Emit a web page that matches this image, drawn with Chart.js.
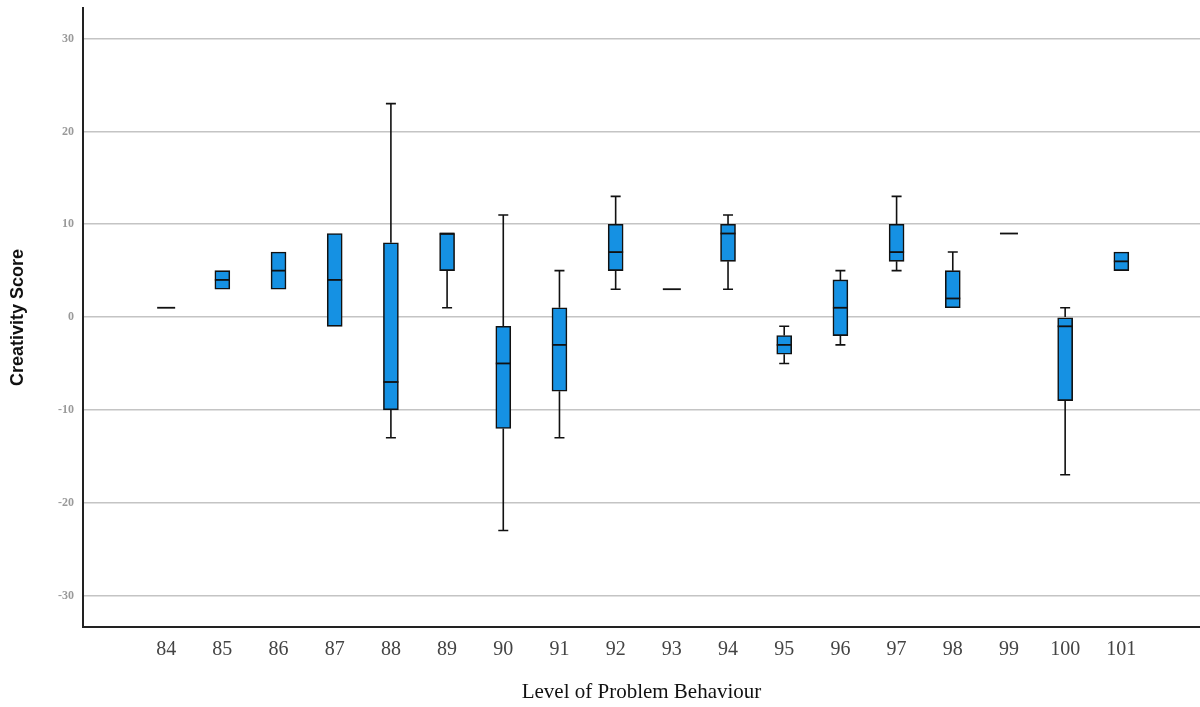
<!DOCTYPE html>
<html>
<head>
<meta charset="utf-8">
<script src="https://cdn.jsdelivr.net/npm/chart.js@4.4.1/dist/chart.umd.min.js"></script>
<style>
  html, body { margin: 0; padding: 0; background: #fff; }
  #wrap { width: 1200px; height: 707px; }
</style>
</head>
<body>
<div id="wrap"><canvas id="boxChart"></canvas></div>
<script>
// ===== DATA =====
const levels  = [84, 85, 86, 87, 88, 89, 90, 91, 92, 93, 94, 95, 96, 97, 98, 99, 100, 101];
const minVals = [1, 3, 3, -1, -13, 1, -23, -13, 3, 3, 3, -5, -3, 5, 1, 9, -17, 5];
const q1Vals  = [1, 3, 3, -1, -10, 5, -12, -8, 5, 3, 6, -4, -2, 6, 1, 9, -9, 5];
const medVals = [1, 4, 5, 4, -7, 9, -5, -3, 7, 3, 9, -3, 1, 7, 2, 9, -1, 6];
const q3Vals  = [1, 5, 7, 9, 8, 9, -1, 1, 10, 3, 10, -2, 4, 10, 5, 9, 0, 7];
const maxVals = [1, 5, 7, 9, 23, 9, 11, 5, 13, 3, 11, -1, 5, 13, 7, 9, 1, 7];
const yTicks  = [-30, -20, -10, 0, 10, 20, 30];

// ===== WHISKERS + MEDIANS =====
const boxExtras = {
  id: 'boxExtras',
  beforeDatasetsDraw(chart) {
    const { ctx, scales: { x, y } } = chart;
    ctx.save();
    ctx.strokeStyle = '#111';
    ctx.lineWidth = 1.6;
    levels.forEach((lv, i) => {
      const px = x.getPixelForValue(lv);
      const segs = [[q3Vals[i], maxVals[i]], [q1Vals[i], minVals[i]]];
      segs.forEach(([from, to]) => {
        if (from === to) return;
        const y0 = y.getPixelForValue(from), y1 = y.getPixelForValue(to);
        ctx.beginPath();
        ctx.moveTo(px, y0); ctx.lineTo(px, y1);
        ctx.moveTo(px - 5, y1); ctx.lineTo(px + 5, y1);
        ctx.stroke();
      });
    });
    ctx.restore();
  },
  afterDatasetsDraw(chart) {
    const { ctx, scales: { x, y } } = chart;
    ctx.save();
    ctx.strokeStyle = '#111';
    ctx.lineWidth = 1.8;
    levels.forEach((lv, i) => {
      const px = x.getPixelForValue(lv);
      const py = y.getPixelForValue(medVals[i]);
      const half = q1Vals[i] === q3Vals[i] ? 9 : 7.5;
      ctx.beginPath();
      ctx.moveTo(px - half, py); ctx.lineTo(px + half, py);
      ctx.stroke();
    });
    ctx.restore();
  }
};

const ctx = document.getElementById('boxChart').getContext('2d');
new Chart(ctx, {
  type: 'bar',
  data: {
    datasets: [{
      label: 'Creativity Score',
      data: levels.map((lv, i) => ({ x: lv, y: q1Vals[i] === q3Vals[i] ? null : [q1Vals[i], q3Vals[i]] })),
      backgroundColor: '#1591e3',
      borderColor: '#111',
      borderWidth: 1.6,
      borderSkipped: false,
      barThickness: 15
    }]
  },
  plugins: [boxExtras],
  options: {
    responsive: true,
    maintainAspectRatio: false,
    animation: false,
    layout: { padding: { top: 8, right: 0, left: 0, bottom: 0 } },
    plugins: { legend: { display: false }, tooltip: { enabled: false } },
    scales: {
      x: {
        type: 'linear',
        offset: false,
        min: 82.52,
        max: 102.4,
        afterBuildTicks: (axis) => { axis.ticks = levels.map(v => ({ value: v })); },
        afterFit: (scale) => { scale.height = 80; },
        grid: { display: false, drawTicks: false, offset: false },
        border: { display: true, color: '#222', width: 2 },
        ticks: {
          autoSkip: false,
          maxRotation: 0,
          padding: 11,
          color: '#444',
          font: { family: 'Liberation Serif', size: 20 },
          callback: (v) => String(v)
        },
        title: {
          display: true,
          text: 'Level of Problem Behaviour',
          color: '#111',
          font: { family: 'Liberation Serif', size: 21 },
          padding: { top: 2, bottom: 2 }
        }
      },
      y: {
        min: -33.4,
        max: 33.3,
        afterBuildTicks: (axis) => { axis.ticks = yTicks.map(v => ({ value: v })); },
        afterFit: (scale) => {
          scale.width = 83;
          scale.paddingTop = 0;
          scale.paddingBottom = 0;
        },
        grid: { color: '#c4c4c4', lineWidth: 1.5, drawTicks: false },
        border: { display: true, color: '#222', width: 2 },
        ticks: {
          padding: 9,
          color: '#9a9a9a',
          font: { family: 'Liberation Serif', size: 12, weight: 'bold' }
        },
        title: {
          display: true,
          text: 'Creativity Score',
          color: '#111',
          font: { family: 'Liberation Sans', size: 18, weight: 'bold' },
          padding: { top: 7, bottom: 0 }
        }
      }
    }
  }
});
</script>
</body>
</html>
